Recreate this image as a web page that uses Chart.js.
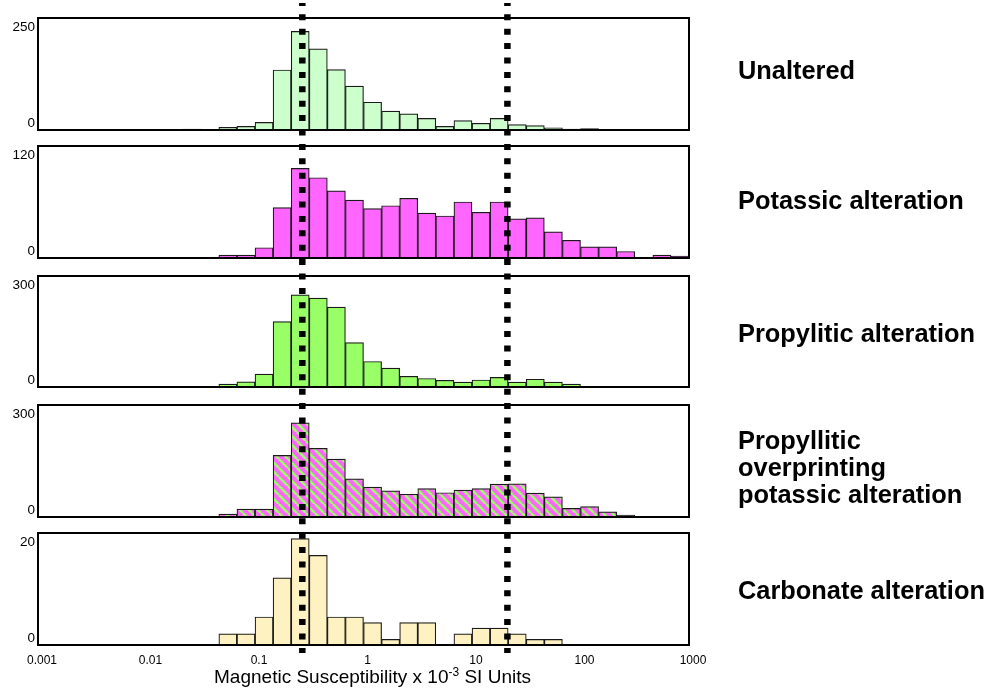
<!DOCTYPE html>
<html><head><meta charset="utf-8">
<script src="https://cdn.jsdelivr.net/npm/chart.js@4.4.1/dist/chart.umd.min.js"></script>
<style>
html,body{margin:0;padding:0;background:#fff;}
#wrap{position:relative;width:994px;height:696px;overflow:hidden;background:#fff;}
#wrap canvas{position:absolute;left:0;}
.lbl{position:absolute;left:738px;font-family:"Liberation Sans",Arial,sans-serif;font-weight:bold;font-size:25.4px;line-height:27px;color:#000;white-space:nowrap;}
#xtitle{position:absolute;left:0;width:745px;top:666px;text-align:center;font-family:"Liberation Sans",Arial,sans-serif;font-size:19px;line-height:22px;color:#000;white-space:nowrap;}
#xtitle sup{font-size:12px;vertical-align:7px;line-height:0;}
</style></head><body><div id="wrap"></div>
<script>
// ---- data ----
const BIN_CENTERS = [0.001212,0.001778,0.002610,0.003831,0.005623,0.008254,
  0.01212,0.01778,0.02610,0.03831,0.05623,0.08254,
  0.1212,0.1778,0.2610,0.3831,0.5623,0.8254,
  1.212,1.778,2.610,3.831,5.623,8.254,
  12.12,17.78,26.10,38.31,56.23,82.54,
  121.2,177.8,261.0,383.1,562.3,825.4];
const X_TICKS = [0.001,0.01,0.1,1,10,100,1000];
const THRESHOLDS = [0.273, 21.2];
const PANEL_NAMES = ['Unaltered','Potassic alteration','Propylitic alteration',['Propyllitic','overprinting','potassic alteration'],'Carbonate alteration'];
const Y_MAX = [250,120,300,300,20];
const AXIS_TITLE = ['Magnetic Susceptibility x 10', '-3', ' SI Units'];

const UNALTERED = [null,null,null,null,null,1, null,null,2,null,6,8, 17,134,220,181,135,98, 62,42,36,26,8,21, 15,26,12,10,5,2, 3,null,1,null,null,null];
const POTASSIC  = [null,null,null,null,null,null, null,null,null,null,3,3, 11,54,96,86,72,62, 53,56,64,48,45,60, 49,60,42,43,28,19, 12,12,7,null,3,2];
const PROPYLITIC= [null,null,null,null,null,null, null,null,1,null,8,14, 35,177,249,240,216,120, 69,51,29,23,18,13, 19,26,13,21,13,8, 2,1,null,null,1,null];
const OVERPRINT = [null,null,null,null,null,null, null,null,null,null,8,21, 21,165,252,184,155,102, 80,70,61,76,65,72, 76,88,89,64,54,23, 28,14,5,null,null,null];
const CARBONATE = [null,null,null,null,null,null, null,null,null,null,2,2, 5,12,19,16,5,5, 4,1,4,4,null,2, 3,3,2,1,1,null, null,null,null,null,null,null];
const SERIES = [UNALTERED, POTASSIC, PROPYLITIC, OVERPRINT, CARBONATE];

// ---- styles / layout ----
const FAMILY = '"Liberation Sans", Arial, Helvetica, sans-serif';
Chart.defaults.font.family = FAMILY;
Chart.defaults.color = '#000';

function stripePattern(){
  const s = 9, c = document.createElement('canvas'); c.width = s; c.height = s;
  const g = c.getContext('2d');
  g.fillStyle = '#FF66FF'; g.fillRect(0,0,s,s);
  g.strokeStyle = '#99FF66'; g.lineWidth = 2.6;
  [[0,0,s,s],[-s,0,0,s],[s,0,2*s,s]].forEach(([a,b,cc,d])=>{g.beginPath();g.moveTo(a,b);g.lineTo(cc,d);g.stroke();});
  return document.createElement('canvas').getContext('2d').createPattern(c,'repeat');
}
const FILLS = ['#CCFFCC','#FF66FF','#99FF66', stripePattern(), '#FFF2C2'];

const LAYOUT = [
  {top:0,   h:138, pt:18, pb:8, y0:3},
  {top:138, h:129, pt:8,  pb:9},
  {top:267, h:129, pt:9,  pb:9},
  {top:396, h:129, pt:9,  pb:8},
  {top:525, h:171, pt:8,  pb:0, y1:128}
];
const LABEL_CENTERS = [70, 200, 333, 467, 590];

const framePlugin = {
  id: 'frame',
  afterDatasetsDraw(chart){
    const {ctx, chartArea:a} = chart;
    ctx.save(); ctx.strokeStyle = '#000'; ctx.lineWidth = 2;
    ctx.strokeRect(a.left, a.top, a.right-a.left, a.bottom-a.top);
    ctx.restore();
  },
  afterDraw(chart, args, opts){
    const ctx = chart.ctx, xs = chart.scales.x;
    const y0 = opts.y0, y1 = opts.y1, P = 14.4;
    ctx.save(); ctx.strokeStyle = '#000'; ctx.lineWidth = 6.5; ctx.setLineDash([6, P-6]);
    THRESHOLDS.forEach(v=>{
      const x = xs.getPixelForValue(v);
      ctx.lineDashOffset = (((opts.absTop + y0 - 14.3) % P) + P) % P;
      ctx.beginPath(); ctx.moveTo(x, y0); ctx.lineTo(x, y1); ctx.stroke();
    });
    ctx.restore();
  }
};

const wrap = document.getElementById('wrap');
SERIES.forEach((vals, i)=>{
  const L = LAYOUT[i], last = i === SERIES.length-1, ymax = Y_MAX[i];
  const cv = document.createElement('canvas');
  cv.width = 994; cv.height = L.h; cv.style.top = L.top + 'px';
  wrap.appendChild(cv);
  new Chart(cv, {
    type: 'bar',
    data: { datasets: [{
      data: BIN_CENTERS.map((c,k)=>({x:c, y:vals[k]})),
      backgroundColor: FILLS[i], borderColor: '#1a1a1a', borderWidth: 1.2,
      barPercentage: 1, categoryPercentage: 1, borderSkipped: 'start'
    }]},
    options: {
      responsive: false, animation: false, devicePixelRatio: 1,
      layout: { padding: { left: 0, right: 305, top: L.pt, bottom: L.pb } },
      plugins: { legend: {display:false}, tooltip: {enabled:false},
        frame: { absTop: L.top, y0: (L.y0 !== undefined ? L.y0 : 0), y1: (L.y1 !== undefined ? L.y1 : L.h) } },
      scales: {
        x: {
          type: 'logarithmic', min: 0.001, max: 1000, display: last,
          afterBuildTicks: s => { s.ticks = X_TICKS.map(v=>({value:v})); },
          afterFit: s => { if (last) s.height = 51; else s.height = 0; s.paddingLeft = 0; s.paddingRight = 0; s.paddingTop = 0; s.paddingBottom = 0; },
          grid: {display:false, drawTicks:false}, border: {display:false},
          ticks: { callback: v => String(v), maxRotation: 0, autoSkip: false, padding: 8, labelOffset: 4,
                   font: {size: 12}, color: '#000' }
        },
        y: {
          min: 0, max: ymax,
          afterBuildTicks: s => { s.ticks = [{value:0},{value:ymax}]; },
          afterFit: s => { s.width = 38; s.paddingTop = 0; s.paddingBottom = 0; s.paddingLeft = 0; s.paddingRight = 0; },
          grid: {display:false, drawTicks:false}, border: {display:false},
          ticks: { callback: v => v === 0 ? ['0',''] : ['', String(v)], padding: 3, color: '#000',
                   font: ctx => ({size: 13.5, lineHeight: ctx.index === 0 ? '14px' : '19px'}) }
        }
      }
    },
    plugins: [framePlugin]
  });
  const d = document.createElement('div');
  d.className = 'lbl';
  const name = PANEL_NAMES[i];
  const lines = Array.isArray(name) ? name : [name];
  d.innerHTML = lines.join('<br>');
  d.style.top = (LABEL_CENTERS[i] - lines.length*27/2 + 0.5) + 'px';
  wrap.appendChild(d);
});
const t = document.createElement('div');
t.id = 'xtitle';
t.appendChild(document.createTextNode(AXIS_TITLE[0]));
const sup = document.createElement('sup'); sup.textContent = AXIS_TITLE[1]; t.appendChild(sup);
t.appendChild(document.createTextNode(AXIS_TITLE[2]));
wrap.appendChild(t);
</script></body></html>
